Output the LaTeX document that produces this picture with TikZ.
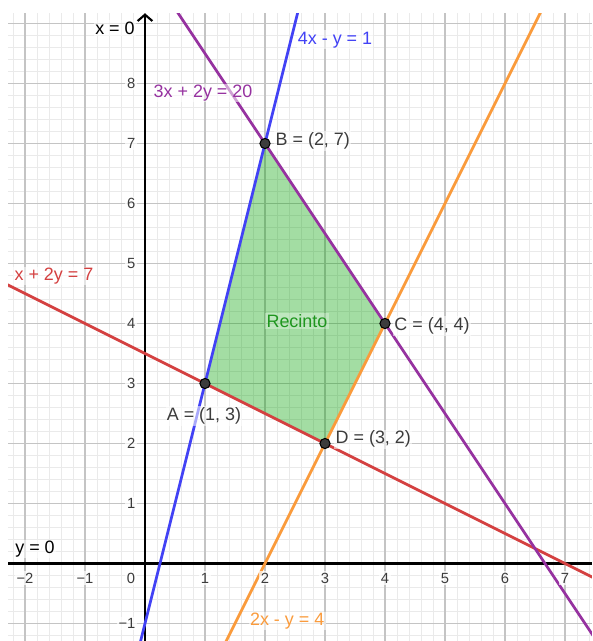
\documentclass[tikz,border=0pt]{standalone}
\usepackage{fontspec}
\setmainfont{Liberation Sans}
\usetikzlibrary{arrows.meta,calc}
\definecolor{gmajor}{RGB}{196,196,196}
\definecolor{gminor}{RGB}{234,234,234}
\definecolor{cblue}{RGB}{66,66,245}
\definecolor{cpurple}{RGB}{150,50,160}
\definecolor{cred}{RGB}{212,64,64}
\definecolor{corange}{RGB}{250,155,60}
\definecolor{cgreen}{RGB}{0,160,0}
\definecolor{cgreentxt}{RGB}{30,150,30}
\definecolor{ctxt}{RGB}{60,60,60}
\tikzset{
  minorgrid/.style={gminor, line width=0.4pt},
  majorgrid/.style={gmajor, line width=0.55pt},
  axisline/.style={black, line width=1.1pt},
  eqline/.style={line width=1.3pt},
  region/.style={fill=cgreen, fill opacity=0.36},
  ptnode/.style={circle, fill=ctxt, draw=black, line width=0.5pt, minimum size=4.8pt, inner sep=0pt},
  lbl/.style={font=\fontsize{8.5}{10}\selectfont, inner sep=0.6pt, fill=white, fill opacity=0.55, text opacity=1},
  ticklbl/.style={font=\fontsize{7}{8}\selectfont, text=ctxt, inner sep=0.8pt, fill=white, fill opacity=0.7, text opacity=1},
}
\begin{document}
\begin{tikzpicture}[x=1cm,y=1cm]
\useasboundingbox (-2.4167,-1.2917) rectangle (7.45,9.3917);
% points
\coordinate (A) at (1,3);
\coordinate (B) at (2,7);
\coordinate (C) at (4,4);
\coordinate (D) at (3,2);
% line ends
\coordinate (b1) at (-0.12,-1.48);
\coordinate (b2) at (2.62,9.48);
\coordinate (p1) at (-0.1,10.15);
\coordinate (p2) at (7.7,-1.55);
\coordinate (r1) at (-2.6,4.8);
\coordinate (r2) at (7.7,-0.35);
\coordinate (o1) at (1.3,-1.4);
\coordinate (o2) at (6.8,9.6);
\coordinate (ybot) at (0,-1.2917);
\coordinate (ytop) at (0,9.17);
\coordinate (xl) at (-2.2833,0);
\coordinate (xr) at (7.45,0);
\begin{scope}
  \clip (-2.2833,-1.2917) rectangle (7.45,9.175);
  \draw[minorgrid, step=0.2] (-2.6,-1.6) grid (7.8,9.4);
  \draw[majorgrid, step=1] (-3,-2) grid (8,10);
  \fill[region] (A) -- (B) -- (C) -- (D) -- cycle;
  \draw[axisline] (xl) -- (xr);
\end{scope}
\draw[axisline, -{Straight Barb[length=3pt,width=7pt,line width=1pt]}] (ybot) -- (ytop);
\begin{scope}
  \clip (-2.2833,-1.2917) rectangle (7.45,9.175);
  \draw[eqline, cred] (r1) -- (r2);
  \draw[eqline, corange] (o1) -- (o2);
  \draw[eqline, cpurple] (p1) -- (p2);
  \draw[eqline, cblue] (b1) -- (b2);
\end{scope}
% tick labels
\foreach \i/\t in {-2/−2,-1/−1,1/1,2/2,3/3,4/4,5/5,6/6,7/7}
  \node[ticklbl] (xt\i) at (\i,-0.242) {\t};
\node[ticklbl] (xt0) at (-0.233,-0.242) {0};
\foreach \j/\t in {-1/−1,1/1,2/2,3/3,4/4,5/5,6/6,7/7,8/8}
  \node[ticklbl, anchor=east] (yt\j) at (-0.125,\j) {\t};
% labels
\node[lbl, text=black] (lx0) at (-0.5,8.925) {x = 0};
\node[lbl, text=black] (ly0) at (-1.833,0.242) {y = 0};
\node[lbl, text=cpurple] (lp) at (0.967,7.842) {3x + 2y = 20};
\node[lbl, text=cblue] (lb) at (3.167,8.73) {4x - y = 1};
\node[lbl, text=cred] (lr) at (-1.517,4.79) {x + 2y = 7};
\node[lbl, text=corange] (lo) at (2.37,-0.96) {2x - y = 4};
\node[lbl, text=cgreentxt, fill opacity=0.3] (lrec) at (2.533,4.042) {Recinto};
% points
\node[ptnode] (pA) at (A) {};
\node[ptnode] (pB) at (B) {};
\node[ptnode] (pC) at (C) {};
\node[ptnode] (pD) at (D) {};
\node[lbl, text=ctxt, anchor=west] (lB) at ($(B)+(0.15,0.04)$) {B = (2, 7)};
\node[lbl, text=ctxt, anchor=west] (lC) at ($(C)+(0.13,-0.04)$) {C = (4, 4)};
\node[lbl, text=ctxt, anchor=west] (lD) at ($(D)+(0.15,0.07)$) {D = (3, 2)};
\node[lbl, text=ctxt] (lA) at (0.983,2.46) {A = (1, 3)};
\end{tikzpicture}
\end{document}
